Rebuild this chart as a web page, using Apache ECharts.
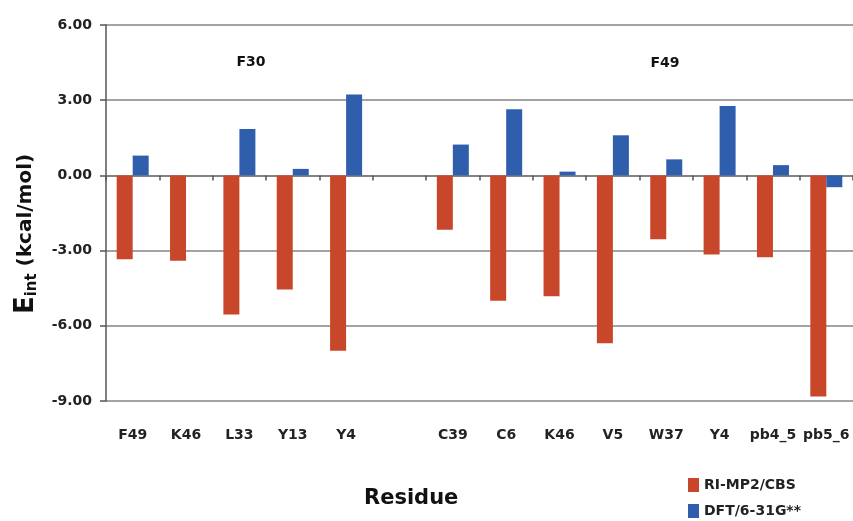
<!DOCTYPE html>
<html>
<head>
<meta charset="utf-8">
<script src="https://cdn.jsdelivr.net/npm/echarts/dist/echarts.min.js"></script>
<style>html,body{margin:0;padding:0;background:#fff;}#c{width:853px;height:521px;}</style>
</head>
<body>
<div id="c"></div>
<script>
const categories = ['F49','K46','L33','Y13','Y4','','C39','C6','K46','V5','W37','Y4','pb4_5','pb5_6'];
const mp2 = [-3.35,-3.4,-5.55,-4.55,-7.0,null,-2.17,-5.0,-4.82,-6.7,-2.55,-3.16,-3.27,-8.82];
const dft = [0.79,0,1.85,0.26,3.23,null,1.23,2.64,0.15,1.6,0.64,2.77,0.41,-0.47];
const seriesNames = ['RI-MP2/CBS','DFT/6-31G**'];
const groupLabels = ['F30','F49'];

const FONT = 'DejaVu Sans';
const legendText = {fontFamily:FONT,fontWeight:'bold',fontSize:14,color:'#222'};
const chart = echarts.init(document.getElementById('c'));
chart.setOption({
  animation:false,
  backgroundColor:'#fff',
  grid:{left:106,right:0,top:25,bottom:120},
  legend:[
    {data:[seriesNames[0]], orient:'vertical', left:688, top:478, padding:0,
     icon:'rect', itemWidth:11, itemHeight:14, textStyle:legendText},
    {data:[seriesNames[1]], orient:'vertical', left:688, top:504, padding:0,
     icon:'rect', itemWidth:11, itemHeight:14, textStyle:legendText}
  ],
  graphic:[
    {type:'text',left:364,top:488,style:{text:'Residue',font:'bold 21px "DejaVu Sans"',fill:'#111'}},
    {type:'text',x:26,y:234,rotation:Math.PI/2,style:{
      text:'{a|E}{b|int}{c| (kcal/mol)}',align:'center',verticalAlign:'middle',
      rich:{a:{fontSize:26,fontWeight:'bold',fontFamily:FONT,fill:'#111'},
            b:{fontSize:15,fontWeight:'bold',fontFamily:FONT,fill:'#111',verticalAlign:'bottom',padding:[12,0,0,0]},
            c:{fontSize:20,fontWeight:'bold',fontFamily:FONT,fill:'#111'}}}},
    {type:'text',x:251,y:62,style:{text:groupLabels[0],align:'center',verticalAlign:'middle',font:'bold 14px "DejaVu Sans"',fill:'#111'}},
    {type:'text',x:665,y:63,style:{text:groupLabels[1],align:'center',verticalAlign:'middle',font:'bold 14px "DejaVu Sans"',fill:'#111'}}
  ],
  xAxis:[
    {type:'category',data:categories,position:'bottom',
     axisLine:{onZero:true,lineStyle:{color:'#7a7a7a',width:1.5}},
     axisTick:{show:true,inside:false,length:5,lineStyle:{color:'#555',width:1.5}},
     axisLabel:{show:false}},
    {type:'category',data:categories,position:'bottom',
     axisLine:{show:false,onZero:false},axisTick:{show:false},
     axisLabel:{interval:0,margin:27,fontFamily:FONT,fontWeight:'bold',fontSize:14,color:'#222'}}
  ],
  yAxis:{
    type:'value',min:-9,max:6,interval:3,
    axisLine:{show:true,lineStyle:{color:'#555',width:1.5}},
    axisTick:{show:true,length:6,lineStyle:{color:'#555',width:1.5}},
    axisLabel:{margin:14,formatter:v=>v.toFixed(2),fontFamily:FONT,fontWeight:'bold',fontSize:14,color:'#222'},
    splitLine:{lineStyle:{color:'#858585',width:1.5}}
  },
  series:[
    {name:seriesNames[0],type:'bar',data:mp2,barWidth:16,barGap:'0%',itemStyle:{color:'#C8472A'}},
    {name:seriesNames[1],type:'bar',data:dft,barWidth:16,barGap:'0%',itemStyle:{color:'#2F5EAD'}}
  ]
});
</script>
</body>
</html>
